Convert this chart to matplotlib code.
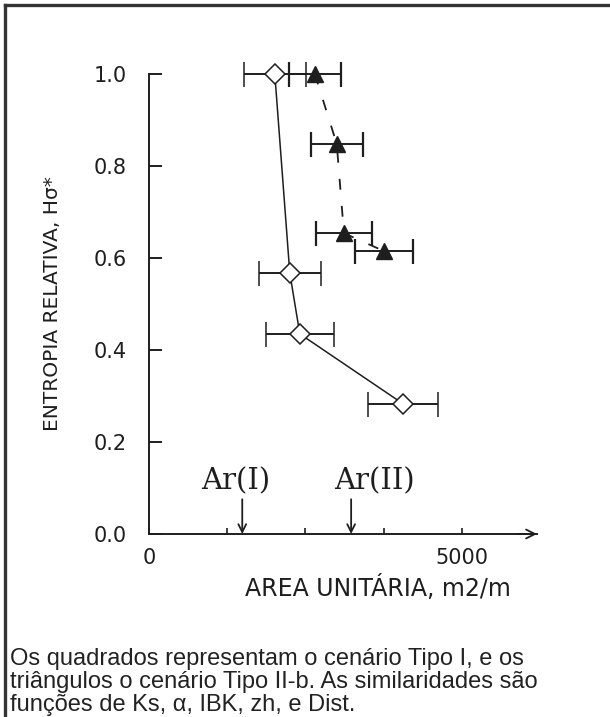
import matplotlib
matplotlib.use("Agg")
import matplotlib.pyplot as plt
from matplotlib.lines import Line2D

# cenario Tipo I (losangos abertos)
tipo1_x = [2010, 2250, 2410, 4060]
tipo1_y = [1.0, 0.567, 0.435, 0.283]
tipo1_err = [495, 495, 540, 560]

# cenario Tipo II-b (triangulos cheios)
tipo2_x = [2650, 3000, 3115, 3755]
tipo2_y = [1.0, 0.848, 0.654, 0.615]
tipo2_err = [415, 415, 450, 465]

ar_x = [1490, 3230]
ar_labels = ["Ar(I)", "Ar(II)"]

y_ticks = [0.0, 0.2, 0.4, 0.6, 0.8, 1.0]
x_ticks = [0, 1250, 2500, 3750, 5000]
x_ticklabels = ["0", "", "", "", "5000"]

caption = ("Os quadrados representam o cenário Tipo I, e os\n"
           "triângulos o cenário Tipo II-b. As similaridades são\n"
           "funções de Ks, α, IBK, zh, e Dist.")

ink = "#1e1e1e"

fig = plt.figure(figsize=(6.10, 7.17), dpi=100)
ax = fig.add_axes([149 / 610, 183 / 717, 388 / 610, 460 / 717])

ax.errorbar(tipo1_x, tipo1_y, xerr=tipo1_err, fmt="D", ms=10, mfc="white",
            mec=ink, mew=1.1, ecolor=ink, elinewidth=1.4, capsize=9,
            capthick=1.6, clip_on=False, zorder=3)
ax.plot(tipo1_x, tipo1_y, "-", color=ink, lw=1.1, clip_on=False, zorder=2)

ax.errorbar(tipo2_x, tipo2_y, xerr=tipo2_err, fmt="^", ms=12, mfc=ink,
            mec=ink, ecolor=ink, elinewidth=1.4, capsize=9,
            capthick=1.6, clip_on=False, zorder=3)
ax.plot(tipo2_x, tipo2_y, color=ink, lw=1.3, dashes=(6, 9),
        clip_on=False, zorder=2)

ax.set_xlim(0, 6200)
ax.set_ylim(0, 1.0)
for s in ["top", "right"]:
    ax.spines[s].set_visible(False)
for s in ["left", "bottom"]:
    ax.spines[s].set_linewidth(1.4)
    ax.spines[s].set_color(ink)

ax.set_yticks(y_ticks)
ax.set_yticklabels(["%.1f" % v for v in y_ticks])
ax.set_xticks(x_ticks)
ax.set_xticklabels(x_ticklabels)
ax.tick_params(axis="y", direction="in", length=9, width=1.4, pad=16,
               labelsize=15, colors=ink)
ax.tick_params(axis="x", direction="in", length=4, width=1.2, pad=10,
               labelsize=15, colors=ink)

# seta no fim do eixo x
ax.annotate("", xy=(1.0, 0), xycoords="axes fraction", xytext=(0.95, 0),
            arrowprops=dict(arrowstyle="->", lw=1.3, color=ink,
                            shrinkA=0, shrinkB=0, mutation_scale=16))

# marcadores Ar(I) e Ar(II)
offsets = [-5, 17]
for xa, lab, dx in zip(ar_x, ar_labels, offsets):
    ax.annotate("", xy=(xa, 0), xytext=(0, 25), textcoords="offset points",
                arrowprops=dict(arrowstyle="->", lw=1.3, color=ink,
                                shrinkA=0, shrinkB=0, mutation_scale=14))
    ax.annotate(lab, xy=(xa, 0), xytext=(dx, 38), textcoords="offset points",
                ha="center", va="center", family="DejaVu Serif",
                fontsize=21, color=ink)

ax.set_xlabel("AREA UNITÁRIA, m2/m", fontsize=17, color=ink)
ax.xaxis.set_label_coords((378 - 149) / 388, -0.09)
ax.set_ylabel("ENTROPIA RELATIVA, Hσ*", fontsize=14.5, color=ink)
ax.yaxis.set_label_coords(-0.225, 0.50)

# moldura (apenas topo e esquerda)
fig.add_artist(Line2D([5 / 610, 1.0], [1 - 5 / 717, 1 - 5 / 717],
                      transform=fig.transFigure, color="#333333", lw=2.4))
fig.add_artist(Line2D([5 / 610, 5 / 610], [0, 1 - 5 / 717],
                      transform=fig.transFigure, color="#333333", lw=2.4))

fig.text(10 / 610, 1 - 648 / 717, caption, ha="left", va="top",
         family="Liberation Sans", fontsize=17, linespacing=1.06,
         color="#222222")

fig.savefig("out.png", dpi=100)
